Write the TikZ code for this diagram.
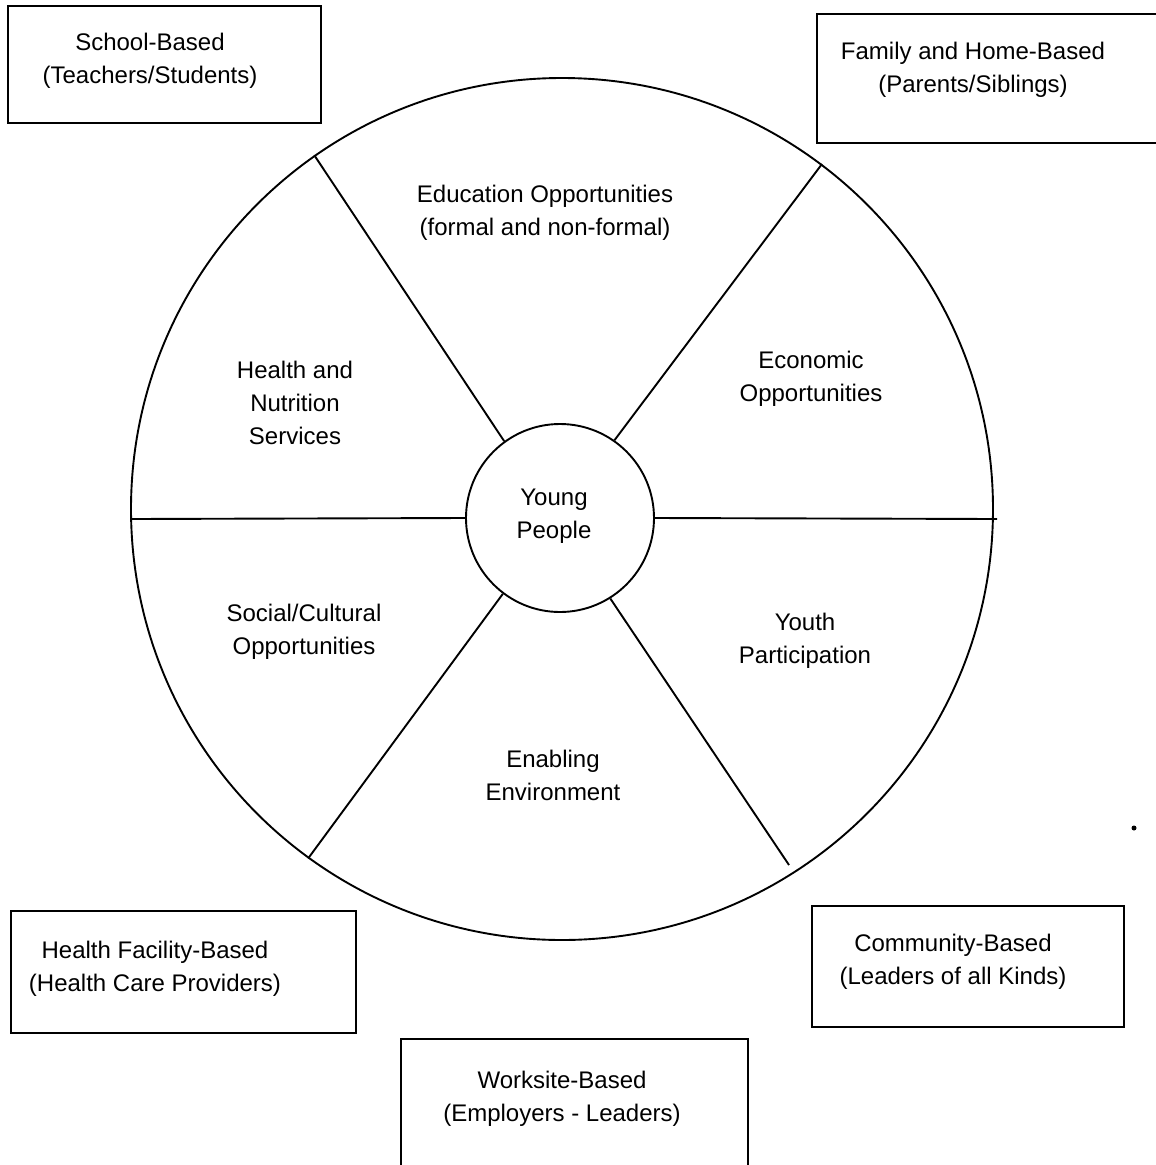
\documentclass[tikz,border=0pt]{standalone}
\usepackage{fontspec}
\setmainfont{Liberation Sans}
\begin{document}
\begin{tikzpicture}[x=1pt,y=-1pt,
  line width=1.9pt,
  lbl/.style={font=\fontsize{24}{33}\selectfont, align=center, inner sep=0pt},
  boxnode/.style={draw, rectangle, inner sep=0pt},
  ring/.style={draw, circle, inner sep=0pt}]
\useasboundingbox (0,0) rectangle (1156,1165);
\clip (0,0) rectangle (1156,1165);
% wheel
\node[ring, minimum size=862pt] (outer) at (562,509) {};
\node[ring, minimum size=188pt] (yp) at (560,518) {};
\coordinate (lrend) at (789,865);
\coordinate (rend) at (997,519);
\coordinate (lend) at (132,519);
\draw (yp.126) -- (outer.125.5);
\draw (yp.55) -- (outer.53);
\draw (yp.233) -- (outer.234);
\draw (yp.302.5) -- (lrend);
\draw (yp.west) -- (lend);
\draw (yp.east) -- (rend);
% boxes
\node[boxnode, minimum width=313pt, minimum height=117pt] (school) at (164.5,64.5) {};
\node[boxnode, minimum width=353pt, minimum height=129pt] (family) at (993.5,78.5) {};
\node[boxnode, minimum width=345pt, minimum height=122pt] (health) at (183.5,972) {};
\node[boxnode, minimum width=312pt, minimum height=121pt] (community) at (968,966.5) {};
\node[boxnode, minimum width=347pt, minimum height=141pt] (worksite) at (574.5,1109.5) {};
\node[circle, fill, inner sep=0pt, minimum size=5pt] (dot) at (1134,828) {};
% labels
\node[lbl] (tschool) at (150,60.5) {School-Based\\(Teachers/Students)};
\node[lbl] (tfamily) at (973,69.5) {Family and Home-Based\\(Parents/Siblings)};
\node[lbl] (tedu) at (545,212.5) {Education Opportunities\\(formal and non-formal)};
\node[lbl] (thealth) at (295,403) {Health and\\Nutrition\\Services};
\node[lbl] (tecon) at (811,378.5) {Economic\\Opportunities};
\node[lbl] (tyoung) at (554,516) {Young\\People};
\node[lbl] (tsocial) at (304,631.5) {Social/Cultural\\Opportunities};
\node[lbl] (tyouth) at (805,640.5) {Youth\\Participation};
\node[lbl] (tenab) at (553,775) {Enabling\\Environment};
\node[lbl] (thf) at (155,968.5) {Health Facility-Based\\(Health Care Providers)};
\node[lbl] (tcomm) at (953,961.5) {Community-Based\\(Leaders of all Kinds)};
\node[lbl] (twork) at (562,1098.5) {Worksite-Based\\(Employers - Leaders)};
\end{tikzpicture}
\end{document}
